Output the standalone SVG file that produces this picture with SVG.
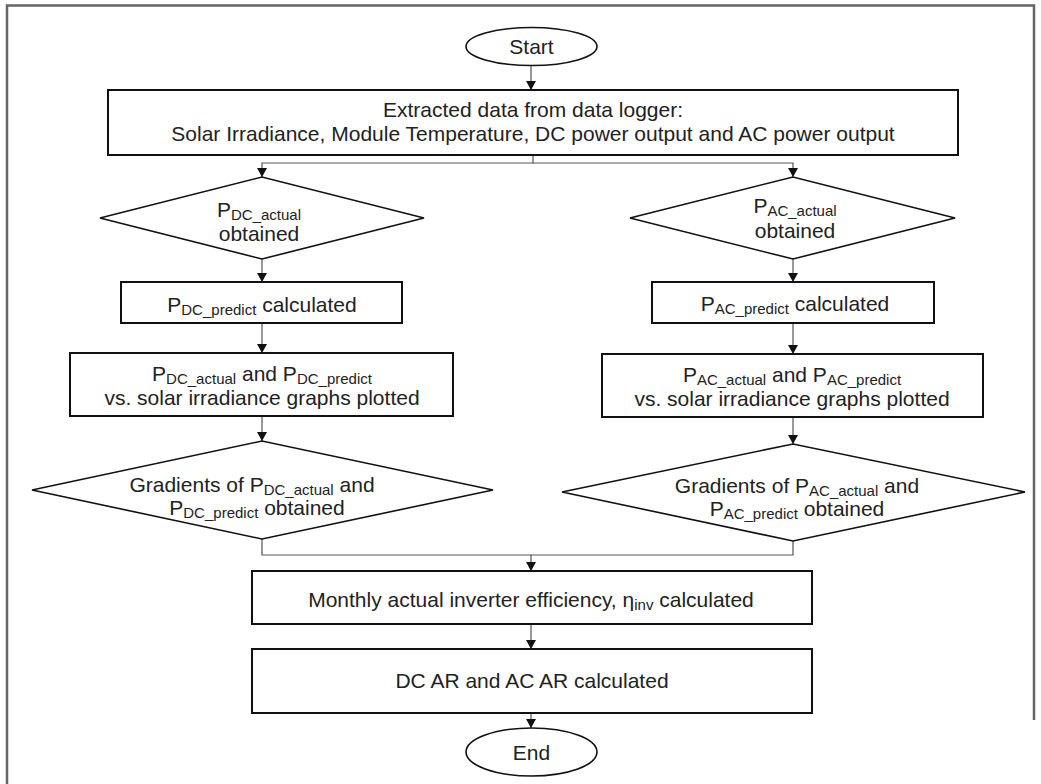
<svg xmlns="http://www.w3.org/2000/svg" width="1041" height="784" viewBox="0 0 1041 784">
<style>
.t{font-family:"Liberation Sans",Arial,sans-serif;font-size:21px;fill:#222;text-anchor:middle}
.s{font-size:15px}
.box{fill:#fff;stroke:#111;stroke-width:2}
.dia{fill:#fff;stroke:#111;stroke-width:1.6}
.ell{fill:#fff;stroke:#111;stroke-width:1.6}
.c{fill:none;stroke:#555;stroke-width:1.2}
</style>
<defs>
<marker id="ah" markerUnits="userSpaceOnUse" markerWidth="10" markerHeight="10" refX="9" refY="5" orient="auto">
<path d="M0,0 L9,5 L0,10 z" fill="#111"/>
</marker>
</defs>
<rect width="1041" height="784" fill="#fff"/>
<path d="M7,784 V5.5 H1034 V720" fill="none" stroke="#666" stroke-width="2.5"/>
<g id="connectors">
<path class="c" d="M531,65 V90" marker-end="url(#ah)"/>
<path class="c" d="M533,155 V163 H262 V177" marker-end="url(#ah)"/>
<path class="c" d="M533,163 H793 V177" marker-end="url(#ah)"/>
<path class="c" d="M262,259 V282" marker-end="url(#ah)"/>
<path class="c" d="M793,259 V282" marker-end="url(#ah)"/>
<path class="c" d="M262,323 V353" marker-end="url(#ah)"/>
<path class="c" d="M793,323 V354" marker-end="url(#ah)"/>
<path class="c" d="M262,416 V441" marker-end="url(#ah)"/>
<path class="c" d="M793,417 V444" marker-end="url(#ah)"/>
<path class="c" d="M262,539 V555 H531 V571" marker-end="url(#ah)"/>
<path class="c" d="M793,541 V555 H531"/>
<path class="c" d="M531,624 V649" marker-end="url(#ah)"/>
<path class="c" d="M531,713 V728" marker-end="url(#ah)"/>
</g>
<g id="start">
<ellipse class="ell" cx="531.5" cy="46.5" rx="65.5" ry="19"/>
<text class="t" x="531.5" y="54">Start</text>
</g>
<g id="extract">
<rect class="box" x="108" y="90" width="850" height="65"/>
<text class="t" x="533" y="117">Extracted data from data logger:</text>
<text class="t" x="533" y="141">Solar Irradiance, Module Temperature, DC power output and AC power output</text>
</g>
<g id="dc-actual">
<polygon class="dia" points="100,218 262,177 424,218 262,259"/>
<text class="t" x="259" y="217">P<tspan class="s" dy="3">DC_actual</tspan></text>
<text class="t" x="259" y="241">obtained</text>
</g>
<g id="ac-actual">
<polygon class="dia" points="630,218 793,177 955,218 793,259"/>
<text class="t" x="795" y="213">P<tspan class="s" dy="3">AC_actual</tspan></text>
<text class="t" x="795" y="238">obtained</text>
</g>
<g id="dc-predict">
<rect class="box" x="121" y="282" width="281" height="41"/>
<text class="t" x="262" y="312">P<tspan class="s" dy="3">DC_predict</tspan><tspan dy="-3"> calculated</tspan></text>
</g>
<g id="ac-predict">
<rect class="box" x="652" y="282" width="282" height="41"/>
<text class="t" x="795" y="311">P<tspan class="s" dy="3">AC_predict</tspan><tspan dy="-3"> calculated</tspan></text>
</g>
<g id="dc-plot">
<rect class="box" x="70" y="353" width="383" height="63"/>
<text class="t" x="262" y="381">P<tspan class="s" dy="3">DC_actual</tspan><tspan dy="-3"> and P</tspan><tspan class="s" dy="3">DC_predict</tspan></text>
<text class="t" x="262" y="405">vs. solar irradiance graphs plotted</text>
</g>
<g id="ac-plot">
<rect class="box" x="602" y="354" width="381" height="63"/>
<text class="t" x="792" y="382">P<tspan class="s" dy="3">AC_actual</tspan><tspan dy="-3"> and P</tspan><tspan class="s" dy="3">AC_predict</tspan></text>
<text class="t" x="792" y="405.5">vs. solar irradiance graphs plotted</text>
</g>
<g id="dc-gradient">
<polygon class="dia" points="32,490 262,441 493,490 262,539"/>
<text class="t" x="252" y="492">Gradients of P<tspan class="s" dy="3">DC_actual</tspan><tspan dy="-3"> and</tspan></text>
<text class="t" x="257" y="515">P<tspan class="s" dy="3">DC_predict</tspan><tspan dy="-3"> obtained</tspan></text>
</g>
<g id="ac-gradient">
<polygon class="dia" points="562,492 793,444 1025,492 793,541"/>
<text class="t" x="797" y="493">Gradients of P<tspan class="s" dy="3">AC_actual</tspan><tspan dy="-3"> and</tspan></text>
<text class="t" x="797" y="516">P<tspan class="s" dy="3">AC_predict</tspan><tspan dy="-3"> obtained</tspan></text>
</g>
<g id="efficiency">
<rect class="box" x="252" y="571" width="560" height="53"/>
<text class="t" x="531" y="607">Monthly actual inverter efficiency, η<tspan class="s" dy="3">inv</tspan><tspan dy="-3"> calculated</tspan></text>
</g>
<g id="ar">
<rect class="box" x="252" y="649" width="560" height="64"/>
<text class="t" x="532" y="688">DC AR and AC AR calculated</text>
</g>
<g id="end">
<ellipse class="ell" cx="531.5" cy="752" rx="65.5" ry="24"/>
<text class="t" x="531.5" y="760">End</text>
</g>
</svg>
